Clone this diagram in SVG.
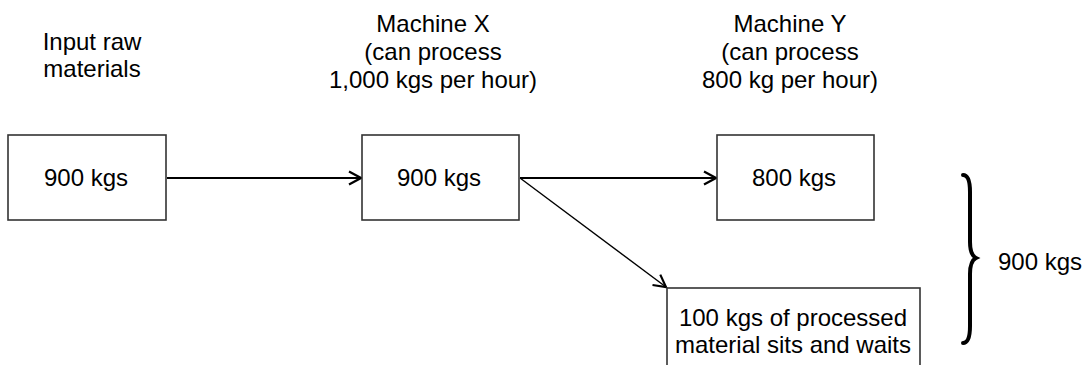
<svg xmlns="http://www.w3.org/2000/svg" width="1084" height="365" viewBox="0 0 1084 365">
<style>
  text { font-family: "Liberation Sans", Arial, sans-serif; font-size: 24px; fill: #000; }
  .c { text-anchor: middle; }
  .box { fill: #fff; stroke: #333; stroke-width: 1.6; }
  .conn { stroke: #000; fill: none; }
</style>
<defs>
  <marker id="arr" markerUnits="userSpaceOnUse" markerWidth="16" markerHeight="16" viewBox="-14 -8 16 16" refX="0" refY="0" orient="auto">
    <polyline points="-12,-6.5 0,0 -12,6.5" fill="none" stroke="#000" stroke-width="2.2"/>
  </marker>
</defs>
<rect width="1084" height="365" fill="#fff"/>

<g id="label-input">
  <text class="c" x="92" y="50">Input raw</text>
  <text class="c" x="92" y="77">materials</text>
</g>
<g id="label-machine-x">
  <text class="c" x="433" y="32">Machine X</text>
  <text class="c" x="433" y="60">(can process</text>
  <text class="c" x="433" y="88">1,000 kgs per hour)</text>
</g>
<g id="label-machine-y">
  <text class="c" x="790" y="32">Machine Y</text>
  <text class="c" x="790" y="60">(can process</text>
  <text class="c" x="790" y="88">800 kg per hour)</text>
</g>

<g id="connectors">
  <line class="conn" x1="167" y1="178" x2="361" y2="178" stroke-width="2.2" marker-end="url(#arr)"/>
  <line class="conn" x1="520" y1="178" x2="716" y2="178" stroke-width="2.2" marker-end="url(#arr)"/>
  <line class="conn" x1="520" y1="178" x2="666" y2="287" stroke-width="1.4" marker-end="url(#arr)"/>
</g>

<g id="node-raw">
  <rect class="box" x="8" y="135" width="158" height="85"/>
  <text class="c" x="86" y="186">900 kgs</text>
</g>
<g id="node-machine-x">
  <rect class="box" x="362" y="135" width="157" height="85"/>
  <text class="c" x="439" y="186">900 kgs</text>
</g>
<g id="node-machine-y">
  <rect class="box" x="717" y="135" width="157" height="85"/>
  <text class="c" x="794" y="186">800 kgs</text>
</g>
<g id="node-waiting">
  <rect class="box" x="667" y="288" width="253" height="100"/>
  <text class="c" x="793" y="326">100 kgs of processed</text>
  <text class="c" x="793" y="353">material sits and waits</text>
</g>

<g id="brace">
  <path d="M 963 175 Q 970 175 970 192 L 970 242 Q 970 255 976 258 Q 970 261 970 274 L 970 326 Q 970 343 963 343" fill="none" stroke="#000" stroke-width="4" stroke-linecap="round"/>
  <text x="998" y="270">900 kgs</text>
</g>
</svg>
